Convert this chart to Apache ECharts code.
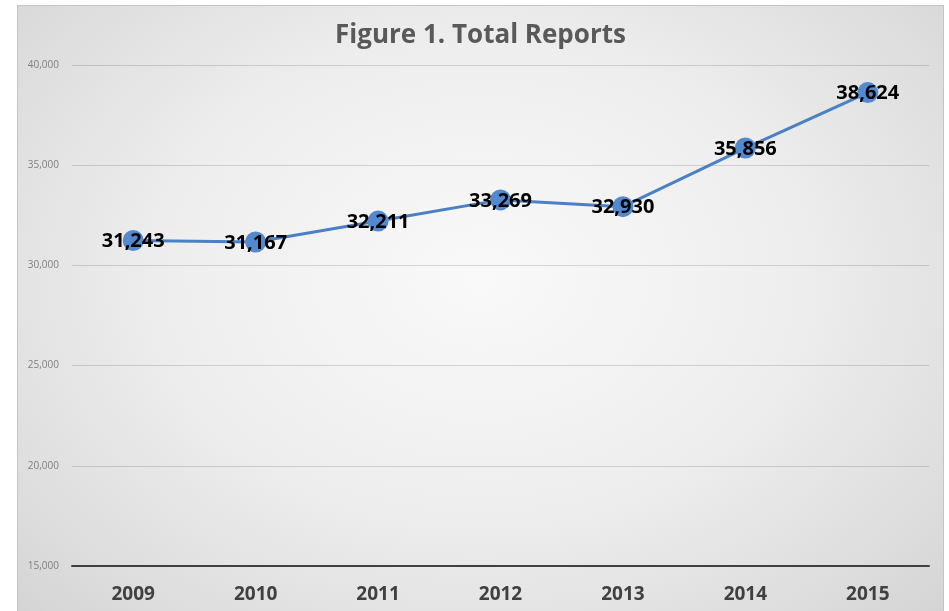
<!DOCTYPE html>
<html lang="en">
<head>
    <meta charset="UTF-8">
    <title>Figure 1. Total Reports</title>
    <style>
        body {
            margin: 0;
            overflow: hidden;
            background: #fff;
        }

        .frame {
            position: absolute;
            left: 17px;
            top: 5px;
            width: 925px;
            height: 606px;
            border-left: 1px solid #c4c4c4;
            border-top: 1px solid #c4c4c4;
            border-right: 1px solid #c4c4c4;
            background: radial-gradient(ellipse 75% 85% at 50% 45%, #f9f9f9 0%, #eeeeee 45%, #dcdcdc 80%, #d0d0d0 100%);
        }

        #chart {
            width: 925px;
            height: 606px;
        }
    </style>
</head>
<body>
    <div class="frame">
        <div id="chart"></div>
    </div>
    <script src="https://cdn.jsdelivr.net/npm/echarts@6/dist/echarts.min.js"></script>
    <script>
        // data
        var years = ['2009', '2010', '2011', '2012', '2013', '2014', '2015'];
        var reports = [31243, 31167, 32211, 33269, 32930, 35856, 38624];

        var myChart = echarts.init(document.getElementById('chart'));

        var option = {
            animation: false,
            title: {
                text: 'Figure 1. Total Reports',
                left: 'center',
                top: 12,
                textStyle: {
                    fontFamily: 'Open Sans',
                    fontWeight: 'bold',
                    fontSize: 26,
                    color: '#595959'
                }
            },
            grid: {
                left: 54,
                right: 14,
                top: 59,
                bottom: 46
            },
            xAxis: {
                type: 'category',
                data: years,
                boundaryGap: true,
                axisTick: { show: false },
                axisLine: {
                    lineStyle: { color: '#404040', width: 2 }
                },
                axisLabel: {
                    margin: 19,
                    fontFamily: 'Open Sans',
                    fontWeight: 'bold',
                    fontSize: 19,
                    color: '#404040'
                }
            },
            yAxis: {
                type: 'value',
                min: 15000,
                max: 40000,
                interval: 5000,
                axisLine: { show: false },
                axisTick: { show: false },
                axisLabel: {
                    margin: 13,
                    fontFamily: 'Open Sans',
                    fontSize: 10,
                    color: '#7f7f7f',
                    formatter: function (v) {
                        return v.toLocaleString('en-US');
                    }
                },
                splitLine: {
                    lineStyle: { color: 'rgba(0,0,0,0.14)', width: 1 }
                }
            },
            series: [{
                name: 'Total Reports',
                type: 'line',
                data: reports,
                symbol: 'circle',
                symbolSize: 21,
                itemStyle: { color: '#5289cf' },
                lineStyle: { color: '#4a80c4', width: 3 },
                label: {
                    show: true,
                    position: 'inside',
                    offset: [0, 1],
                    fontFamily: 'Open Sans',
                    fontWeight: 'bold',
                    fontSize: 20,
                    color: '#000',
                    formatter: function (p) {
                        return p.value.toLocaleString('en-US');
                    }
                }
            }]
        };

        myChart.setOption(option);
    </script>
</body>
</html>
